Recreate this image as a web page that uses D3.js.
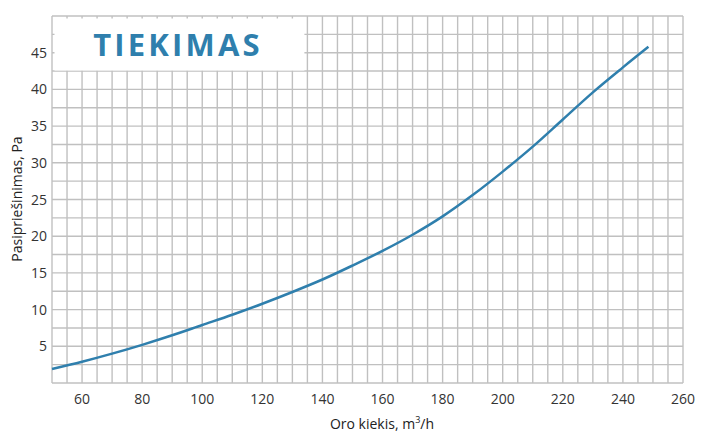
<!DOCTYPE html>
<html>
<head>
<meta charset="utf-8">
<script src="https://cdn.jsdelivr.net/npm/d3@7"></script>
<style>
  body { margin: 0; background: #fff; }
  text { font-family: "Open Sans", sans-serif; }
</style>
</head>
<body>
<svg id="chart" width="703" height="433"></svg>
<script>
// duomenys nuskaityti nuo paveikslo
const airflow = [50, 60, 70, 80, 90, 100, 110, 120, 130, 140, 150, 160, 170, 180, 190, 200, 210, 220, 230, 240, 248.5]
const pressure = [1.9, 2.9, 4.0, 5.2, 6.5, 7.9, 9.3, 10.8, 12.4, 14.1, 16.0, 18.0, 20.2, 22.7, 25.6, 28.8, 32.2, 35.9, 39.6, 43.0, 45.8]
const xTicks = [60, 80, 100, 120, 140, 160, 180, 200, 220, 240, 260]
const yTicks = [5, 10, 15, 20, 25, 30, 35, 40, 45]
const title = 'TIEKIMAS'

const svg = d3.select('#chart')
const x = d3.scaleLinear().domain([50, 260]).range([52, 683])
const y = d3.scaleLinear().domain([0, 50]).range([383, 16])

//======== grid ========//
const grid = svg.append('g').attr('stroke', '#c0c0c0').attr('stroke-width', 1.4)
grid.selectAll('line.v')
  .data(d3.range(50, 260.1, 5))
  .join('line')
  .attr('x1', d => x(d)).attr('x2', d => x(d))
  .attr('y1', y(0)).attr('y2', y(50))
grid.selectAll('line.h')
  .data(d3.range(0, 50.1, 2.5))
  .join('line')
  .attr('x1', x(50)).attr('x2', x(260))
  .attr('y1', d => y(d)).attr('y2', d => y(d))

// baltas fonas po pavadinimu
svg.append('rect')
  .attr('x', x(50) + 2.5)
  .attr('y', y(50) + 2.5)
  .attr('width', x(134) - x(50) - 2.5)
  .attr('height', y(42.5) - y(50) - 3)
  .attr('fill', '#fff')

svg.append('text')
  .attr('x', 178)
  .attr('y', 56)
  .attr('text-anchor', 'middle')
  .attr('fill', '#2f7fad')
  .attr('font-size', 31)
  .attr('font-weight', 700)
  .attr('letter-spacing', 3.2)
  .text(title)

//======== axes labels ========//
svg.append('g')
  .selectAll('text')
  .data(xTicks)
  .join('text')
  .attr('x', d => x(d))
  .attr('y', 404)
  .attr('text-anchor', 'middle')
  .attr('font-size', 14)
  .attr('fill', '#333')
  .text(d => d)

svg.append('g')
  .selectAll('text')
  .data(yTicks)
  .join('text')
  .attr('x', 47)
  .attr('y', d => y(d) + 5)
  .attr('text-anchor', 'end')
  .attr('font-size', 14)
  .attr('fill', '#333')
  .text(d => d)

const xl = svg.append('text')
  .attr('x', 382)
  .attr('y', 429)
  .attr('text-anchor', 'middle')
  .attr('font-size', 14)
  .attr('fill', '#222')
xl.append('tspan').text('Oro kiekis, m')
xl.append('tspan').attr('font-size', 9).attr('dy', -6).text('3')
xl.append('tspan').attr('dy', 6).text('/h')

svg.append('text')
  .attr('transform', 'translate(22,199) rotate(-90)')
  .attr('text-anchor', 'middle')
  .attr('font-size', 14)
  .attr('fill', '#222')
  .text('Pasipriešinimas, Pa')

//======== curve ========//
const points = airflow.map((d, i) => [d, pressure[i]])
svg.append('path')
  .datum(points)
  .attr('fill', 'none')
  .attr('stroke', '#2f7fad')
  .attr('stroke-width', 2.5)
  .attr('d', d3.line().x(d => x(d[0])).y(d => y(d[1])).curve(d3.curveCatmullRom.alpha(0.5)))
</script>
</body>
</html>
